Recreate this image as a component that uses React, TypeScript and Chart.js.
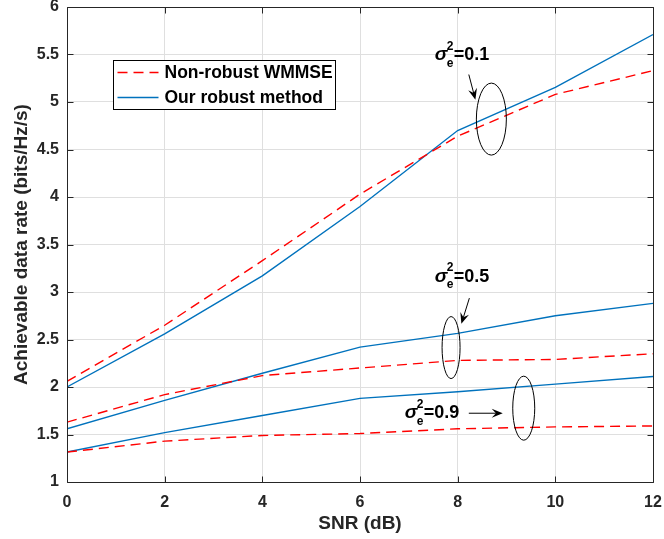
import React, { useEffect, useRef } from "react";
import { Chart, registerables } from "chart.js";

Chart.register(...registerables);

// ---------- data ----------
const snrDb = [0, 2, 4, 6, 8, 10, 12];
const nonRobust01 = [2.06, 2.65, 3.33, 4.03, 4.64, 5.08, 5.33];
const robust01 = [2.0, 2.56, 3.17, 3.9, 4.7, 5.155, 5.71];
const nonRobust05 = [1.63, 1.92, 2.12, 2.2, 2.28, 2.29, 2.35];
const robust05 = [1.56, 1.86, 2.145, 2.42, 2.565, 2.75, 2.88];
const nonRobust09 = [1.315, 1.43, 1.49, 1.51, 1.56, 1.58, 1.59];
const robust09 = [1.315, 1.52, 1.7, 1.88, 1.95, 2.03, 2.11];

const xTicks = [0, 2, 4, 6, 8, 10, 12];
const xTickLabels = ["0", "2", "4", "6", "8", "10", "12"];
const yTicks = [1, 1.5, 2, 2.5, 3, 3.5, 4, 4.5, 5, 5.5, 6];
const yTickLabels = ["1", "1.5", "2", "2.5", "3", "3.5", "4", "4.5", "5", "5.5", "6"];
const legendLabels = ["Non-robust WMMSE", "Our robust method"];
const xTitle = "SNR (dB)";
const yTitle = "Achievable data rate (bits/Hz/s)";
const sigmaValues = ["0.1", "0.5", "0.9"];

// ---------- annotation placement (data coords) ----------
const ellipses = [
  { x: 8.69, y: 4.82, rx: 15, ry: 36 },
  { x: 7.865, y: 2.415, rx: 9, ry: 31 },
  { x: 9.353, y: 1.777, rx: 11, ry: 32 },
];
const arrows = [
  { x1: 8.228, y1: 5.289, x2: 8.363, y2: 5.025 },
  { x1: 8.24, y1: 2.936, x2: 8.076, y2: 2.665 },
  { x1: 8.228, y1: 1.724, x2: 8.923, y2: 1.724 },
];
const labelPos = [
  { x: 7.53, y: 5.44 },
  { x: 7.53, y: 3.11 },
  { x: 6.918, y: 1.671 },
];

const RED = "#ff0000";
const BLUE = "#0072bd";
const AXIS = "#262626";
const GRID = "#dfdfdf";
const FONT = '"Liberation Sans", Arial, Helvetica, sans-serif';
const DASH = [10, 6];

function drawArrow(ctx: CanvasRenderingContext2D, x1: number, y1: number, x2: number, y2: number) {
  const dx = x2 - x1, dy = y2 - y1;
  const len = Math.hypot(dx, dy);
  const ux = dx / len, uy = dy / len;
  const px = -uy, py = ux;
  const L = 11, W = 4.5;
  const bx = x2 - ux * L, by = y2 - uy * L;
  const nx = x2 - ux * L * 0.62, ny = y2 - uy * L * 0.62;
  ctx.save();
  ctx.strokeStyle = "#000";
  ctx.fillStyle = "#000";
  ctx.lineWidth = 1;
  ctx.beginPath();
  ctx.moveTo(x1, y1);
  ctx.lineTo(nx, ny);
  ctx.stroke();
  ctx.beginPath();
  ctx.moveTo(x2, y2);
  ctx.lineTo(bx + px * W, by + py * W);
  ctx.lineTo(nx, ny);
  ctx.lineTo(bx - px * W, by - py * W);
  ctx.closePath();
  ctx.fill();
  ctx.restore();
}

function drawSigma(ctx: CanvasRenderingContext2D, x: number, y: number, val: string) {
  ctx.save();
  ctx.fillStyle = "#000";
  ctx.textBaseline = "alphabetic";
  ctx.textAlign = "left";
  ctx.font = `italic bold 19px ${FONT}`;
  ctx.fillText("\u03c3", x, y);
  ctx.font = `bold 12px ${FONT}`;
  ctx.fillText("2", x + 12, y - 10.5);
  ctx.fillText("e", x + 12, y + 6.5);
  ctx.font = `bold 18px ${FONT}`;
  ctx.fillText("=" + val, x + 19, y);
  ctx.restore();
}

const overlayPlugin = {
  id: "overlay",
  afterDatasetsDraw(chart: any) {
    const ctx: CanvasRenderingContext2D = chart.ctx;
    const xs = chart.scales.x, ys = chart.scales.y;
    ellipses.forEach((e) => {
      ctx.save();
      ctx.strokeStyle = "#000";
      ctx.lineWidth = 1;
      ctx.beginPath();
      ctx.ellipse(xs.getPixelForValue(e.x), ys.getPixelForValue(e.y), e.rx, e.ry, 0, 0, Math.PI * 2);
      ctx.stroke();
      ctx.restore();
    });
    arrows.forEach((a) =>
      drawArrow(ctx, xs.getPixelForValue(a.x1), ys.getPixelForValue(a.y1), xs.getPixelForValue(a.x2), ys.getPixelForValue(a.y2))
    );
    labelPos.forEach((p, i) => drawSigma(ctx, xs.getPixelForValue(p.x), ys.getPixelForValue(p.y), sigmaValues[i]));

    // legend
    const ca = chart.chartArea;
    const lx = Math.round(ca.left + 46) + 0.5;
    const ly = Math.round(ca.top + 53) + 0.5;
    const lw = 222, lh = 49;
    ctx.save();
    ctx.fillStyle = "#fff";
    ctx.fillRect(lx, ly, lw, lh);
    ctx.strokeStyle = "#000";
    ctx.lineWidth = 1;
    ctx.strokeRect(lx, ly, lw, lh);
    const ds = chart.data.datasets;
    [0, 1].forEach((i) => {
      const d = ds[i];
      const yy = ly + 12 + i * 25;
      ctx.strokeStyle = d.borderColor;
      ctx.lineWidth = d.borderWidth;
      ctx.setLineDash(d.borderDash || []);
      ctx.beginPath();
      ctx.moveTo(lx + 4, yy);
      ctx.lineTo(lx + 45, yy);
      ctx.stroke();
      ctx.setLineDash([]);
      ctx.fillStyle = "#000";
      ctx.font = `bold 17.5px ${FONT}`;
      ctx.textBaseline = "middle";
      ctx.fillText(legendLabels[i], lx + 51, yy + 1);
    });
    ctx.restore();
  },
  afterDraw(chart: any) {
    const ctx: CanvasRenderingContext2D = chart.ctx;
    const ca = chart.chartArea;
    const xs = chart.scales.x, ys = chart.scales.y;
    const L = Math.round(ca.left) + 0.5, R = Math.round(ca.right) + 0.5;
    const T = Math.round(ca.top) + 0.5, B = Math.round(ca.bottom) + 0.5;
    ctx.save();
    ctx.strokeStyle = AXIS;
    ctx.lineWidth = 1;
    ctx.beginPath();
    ctx.rect(L, T, R - L, B - T);
    const tl = 6;
    xTicks.forEach((v) => {
      const px = Math.round(xs.getPixelForValue(v)) + 0.5;
      ctx.moveTo(px, B);
      ctx.lineTo(px, B - tl);
      ctx.moveTo(px, T);
      ctx.lineTo(px, T + tl);
    });
    yTicks.forEach((v) => {
      const py = Math.round(ys.getPixelForValue(v)) + 0.5;
      ctx.moveTo(L, py);
      ctx.lineTo(L + tl, py);
      ctx.moveTo(R, py);
      ctx.lineTo(R - tl, py);
    });
    ctx.stroke();
    ctx.restore();
  },
};

function series(values: number[], robust: boolean, label: string) {
  return {
    label,
    data: snrDb.map((x, i) => ({ x, y: values[i] })),
    borderColor: robust ? BLUE : RED,
    backgroundColor: robust ? BLUE : RED,
    borderWidth: 1.4,
    borderDash: robust ? [] : DASH,
    pointRadius: 0,
    tension: 0,
    fill: false,
  };
}

function zeroPad(s: any) {
  s.paddingTop = 0;
  s.paddingBottom = 0;
  s.paddingLeft = 0;
  s.paddingRight = 0;
}

export default function App() {
  const ref = useRef<HTMLCanvasElement>(null);
  useEffect(() => {
    if (!ref.current) return;
    const chart = new Chart(ref.current, {
      type: "line",
      data: {
        datasets: [
          series(nonRobust01, false, legendLabels[0]),
          series(robust01, true, legendLabels[1]),
          series(nonRobust05, false, legendLabels[0]),
          series(robust05, true, legendLabels[1]),
          series(nonRobust09, false, legendLabels[0]),
          series(robust09, true, legendLabels[1]),
        ],
      },
      options: {
        responsive: false,
        animation: false,
        devicePixelRatio: 1,
        layout: { padding: { top: 7, right: 11, bottom: 0, left: 0 } },
        plugins: { legend: { display: false }, tooltip: { enabled: false } },
        scales: {
          x: {
            type: "linear",
            min: 0,
            max: 12,
            afterBuildTicks: (s: any) => {
              s.ticks = xTicks.map((v) => ({ value: v }));
            },
            afterFit: (s: any) => {
              s.height = 57;
              zeroPad(s);
            },
            ticks: {
              callback: (_v: any, i: number) => xTickLabels[i],
              font: { family: FONT, size: 16, weight: "bold" },
              color: AXIS,
              padding: 11,
              maxRotation: 0,
            },
            grid: { color: GRID, drawTicks: false },
            border: { display: false },
            title: {
              display: true,
              text: xTitle,
              font: { family: FONT, size: 19, weight: "bold" },
              color: AXIS,
              padding: { top: 0, bottom: 4 },
            },
          },
          y: {
            type: "linear",
            min: 1,
            max: 6,
            afterBuildTicks: (s: any) => {
              s.ticks = yTicks.map((v) => ({ value: v }));
            },
            afterFit: (s: any) => {
              s.width = 67;
              zeroPad(s);
            },
            ticks: {
              callback: (_v: any, i: number) => yTickLabels[i],
              font: { family: FONT, size: 16, weight: "bold" },
              color: AXIS,
              padding: 8,
            },
            grid: { color: GRID, drawTicks: false },
            border: { display: false },
            title: {
              display: true,
              text: yTitle,
              font: { family: FONT, size: 19, weight: "bold" },
              color: AXIS,
              padding: { top: 10, bottom: 0 },
            },
          },
        },
      },
      plugins: [overlayPlugin],
    } as any);
    return () => chart.destroy();
  }, []);
  return (
    <div style={{ position: "absolute", left: 0, top: 0, width: 664, height: 539, background: "#fff" }}>
      <canvas ref={ref} width={664} height={539} />
    </div>
  );
}
